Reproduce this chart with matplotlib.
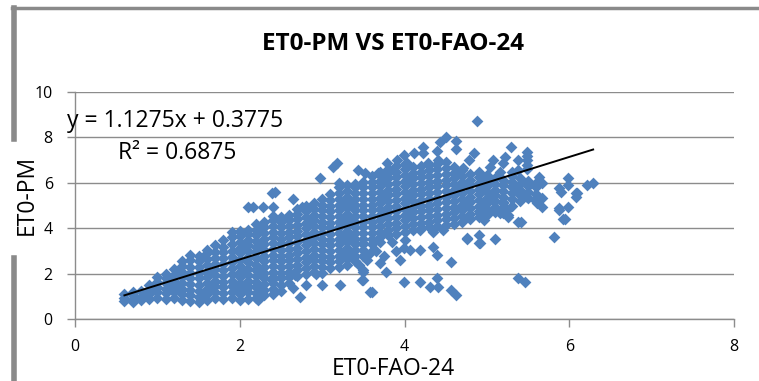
import numpy as np
import matplotlib
matplotlib.use('Agg')
import matplotlib.pyplot as plt
from matplotlib.lines import Line2D

plt.rcParams['font.family'] = ['Open Sans', 'DejaVu Sans']

# dense part of the cloud, read column by column (ET0-FAO-24 -> ET0-PM values)
core_x = [0.6, 0.7, 0.8, 0.9, 1.0, 1.1, 1.2, 1.3, 1.4, 1.5, 1.6, 1.7, 1.8, 1.9,
          2.0, 2.1, 2.2, 2.3, 2.4, 2.5, 2.6, 2.7, 2.8, 2.9, 3.0, 3.1, 3.2, 3.3,
          3.4, 3.5, 3.6, 3.7, 3.8, 3.9, 4.0, 4.1, 4.2, 4.3, 4.4, 4.5, 4.6, 4.7,
          4.8, 4.9, 5.0, 5.1, 5.2, 5.3, 5.4, 5.5, 5.6]
core_y = [
    [0.8, 0.95, 1.1],
    [0.75, 0.9, 1.05, 1.2],
    [0.85, 1.0, 1.25],
    [0.9, 1.1, 1.3, 1.5],
    [0.95, 1.2, 1.4, 1.65, 1.85],
    [0.9, 1.15, 1.35, 1.6, 1.8, 2.0],
    [0.95, 1.2, 1.45, 1.7, 1.95, 2.2],
    [0.85, 1.1, 1.35, 1.6, 1.85, 2.1, 2.35, 2.55],
    [0.8, 1.05, 1.3, 1.55, 1.8, 2.05, 2.3, 2.6, 2.85],
    [0.75, 1.0, 1.25, 1.5, 1.8, 2.05, 2.3, 2.55, 2.8],
    [0.85, 1.1, 1.35, 1.6, 1.85, 2.1, 2.4, 2.65, 2.9, 3.05],
    [0.95, 1.2, 1.45, 1.7, 1.95, 2.2, 2.45, 2.7, 2.95, 3.25],
    [0.9, 1.15, 1.4, 1.65, 1.9, 2.15, 2.45, 2.7, 2.95, 3.2, 3.5],
    [0.95, 1.2, 1.45, 1.7, 2.0, 2.25, 2.5, 2.75, 3.0, 3.3, 3.6, 3.85],
    [0.85, 1.1, 1.35, 1.6, 1.85, 2.1, 2.35, 2.6, 2.9, 3.15, 3.4, 3.65, 3.9],
    [0.9, 1.2, 1.45, 1.7, 1.95, 2.2, 2.5, 2.75, 3.0, 3.25, 3.5, 3.75, 3.95],
    [0.95, 1.15, 1.4, 1.65, 1.9, 2.15, 2.4, 2.7, 2.95, 3.2, 3.45, 3.7, 3.95, 4.2],
    [1.05, 1.3, 1.55, 1.8, 2.05, 2.3, 2.55, 2.8, 3.05, 3.3, 3.55, 3.8, 4.05, 4.3],
    [1.1, 1.35, 1.6, 1.85, 2.1, 2.35, 2.6, 2.85, 3.1, 3.35, 3.6, 3.85, 4.1, 4.35, 4.55],
    [1.25, 1.5, 1.8, 2.05, 2.3, 2.55, 2.8, 3.05, 3.3, 3.55, 3.8, 4.05, 4.3, 4.5],
    [1.6, 1.85, 2.1, 2.35, 2.6, 2.85, 3.1, 3.35, 3.6, 3.85, 4.1, 4.35, 4.6],
    [1.9, 2.15, 2.4, 2.65, 2.9, 3.15, 3.4, 3.65, 3.9, 4.15, 4.4, 4.65, 4.85],
    [2.0, 2.25, 2.5, 2.75, 3.0, 3.25, 3.5, 3.75, 4.0, 4.25, 4.5, 4.75, 5.0],
    [2.1, 2.35, 2.6, 2.85, 3.1, 3.35, 3.6, 3.85, 4.1, 4.35, 4.6, 4.85, 5.1],
    [2.05, 2.3, 2.55, 2.8, 3.05, 3.3, 3.55, 3.8, 4.05, 4.3, 4.55, 4.8, 5.05, 5.3],
    [2.25, 2.5, 2.75, 3.0, 3.25, 3.5, 3.75, 4.0, 4.25, 4.5, 4.75, 5.0, 5.25, 5.5],
    [2.3, 2.55, 2.8, 3.05, 3.3, 3.55, 3.8, 4.05, 4.3, 4.55, 4.8, 5.05, 5.3, 5.55, 5.8, 6.0],
    [2.4, 2.65, 2.9, 3.15, 3.4, 3.65, 3.9, 4.15, 4.4, 4.65, 4.9, 5.15, 5.4, 5.65, 5.9],
    [2.55, 2.8, 3.05, 3.3, 3.55, 3.8, 4.05, 4.3, 4.55, 4.8, 5.05, 5.3, 5.55, 5.8, 5.95],
    [2.8, 3.05, 3.3, 3.55, 3.8, 4.05, 4.3, 4.55, 4.8, 5.05, 5.3, 5.55, 5.8, 6.05],
    [3.3, 3.55, 3.8, 4.05, 4.3, 4.55, 4.8, 5.05, 5.3, 5.55, 5.8, 6.05, 6.3],
    [3.6, 3.85, 4.1, 4.35, 4.6, 4.85, 5.1, 5.35, 5.6, 5.85, 6.1, 6.35, 6.5],
    [3.7, 3.95, 4.2, 4.45, 4.7, 4.95, 5.2, 5.45, 5.7, 5.95, 6.2, 6.45, 6.6],
    [3.75, 4.0, 4.25, 4.5, 4.75, 5.0, 5.25, 5.5, 5.75, 6.0, 6.25, 6.5, 6.75],
    [3.85, 4.1, 4.35, 4.6, 4.85, 5.1, 5.35, 5.6, 5.85, 6.1, 6.35, 6.6, 6.85],
    [3.95, 4.2, 4.45, 4.7, 4.95, 5.2, 5.45, 5.7, 5.95, 6.2, 6.45, 6.7],
    [4.0, 4.25, 4.5, 4.75, 5.0, 5.25, 5.5, 5.75, 6.0, 6.25, 6.5, 6.75],
    [4.05, 4.3, 4.55, 4.8, 5.05, 5.3, 5.55, 5.8, 6.05, 6.3, 6.55, 6.8],
    [4.1, 4.35, 4.6, 4.85, 5.1, 5.35, 5.6, 5.85, 6.1, 6.35, 6.6, 6.85],
    [4.15, 4.4, 4.65, 4.9, 5.15, 5.4, 5.65, 5.9, 6.15, 6.4, 6.65, 6.9],
    [4.2, 4.45, 4.7, 4.95, 5.2, 5.45, 5.7, 5.95, 6.2, 6.45, 6.7],
    [4.3, 4.55, 4.8, 5.05, 5.3, 5.55, 5.8, 6.05, 6.3, 6.55],
    [4.4, 4.65, 4.9, 5.15, 5.4, 5.65, 5.9, 6.15, 6.4],
    [4.5, 4.75, 5.0, 5.25, 5.5, 5.75, 6.0, 6.25, 6.5],
    [4.6, 4.85, 5.1, 5.35, 5.6, 5.85, 6.1, 6.35],
    [4.7, 4.95, 5.2, 5.45, 5.7, 5.95, 6.2],
    [4.9, 5.15, 5.4, 5.65, 5.9, 6.15],
    [5.0, 5.3, 5.55, 5.8, 6.05, 6.3],
    [5.2, 5.45, 5.7, 5.95, 6.2],
    [5.35, 5.6, 5.85, 6.1],
    [5.5, 5.8, 6.0],
]

# scattered points around the cloud
extra_x = [2.22, 2.1, 2.39, 2.65, 2.73, 2.8, 3.0, 3.22, 3.49, 3.58, 3.5, 2.67, 2.92,
           3.5, 3.58, 3.7, 3.77, 3.5, 3.5, 3.6, 3.99, 4.07, 4.19, 4.34, 4.4, 4.56,
           3.99, 4.19, 4.31, 4.4, 4.41, 4.56, 4.62, 4.01, 4.19, 4.34, 4.47, 4.76,
           4.9, 4.9, 5.1, 5.81, 5.38, 5.46, 4.76, 4.92, 3.45, 3.55, 3.65, 3.75,
           3.85, 3.9, 3.95, 3.7,
           4.88, 4.5, 4.43, 4.62, 4.62, 4.4, 4.22, 4.23, 4.11, 3.99, 3.91, 3.79,
           3.52, 3.68, 4.03, 4.41, 4.29, 4.78, 4.84, 4.71, 3.18, 3.13, 2.98, 3.43,
           2.43, 2.39, 2.16, 2.28, 2.4, 2.65, 2.76, 2.1,
           5.29, 5.49, 5.49, 5.49, 5.49, 5.49, 5.38, 5.22, 5.07, 5.04, 5.19, 5.38,
           5.31, 5.16, 4.98, 5.63, 5.67, 5.87, 5.99, 5.99, 6.08, 6.22, 6.29, 4.98,
           5.07, 5.19, 5.22, 5.59, 5.67, 5.87, 5.99, 5.41, 5.95, 6.1, 6.08, 5.16,
           5.25, 5.26, 4.92, 4.96, 5.49, 5.61, 5.67, 5.9, 5.19, 5.26, 5.38, 5.87,
           5.93]
extra_y = [0.85, 1.4, 1.73, 1.38, 0.98, 1.5, 1.5, 1.5, 1.73, 1.2, 2.1, 1.95, 2.0,
           3.35, 2.9, 2.47, 2.08, 2.17, 1.73, 1.2, 3.14, 3.05, 3.05, 3.19, 2.83, 2.52,
           1.64, 1.64, 1.42, 1.82, 1.42, 1.29, 1.07, 3.49, 3.93, 3.84, 3.93, 3.58,
           3.71, 3.35, 3.54, 3.62, 1.82, 1.64, 3.53, 3.35, 2.4, 2.6, 3.0, 2.8,
           3.4, 3.0, 2.6, 3.4,
           8.73, 8.03, 7.8, 7.86, 7.5, 7.4, 7.6, 7.3, 7.3, 7.24, 7.0, 6.87,
           6.45, 6.45, 6.87, 7.0, 6.87, 7.0, 7.3, 6.67, 6.87, 6.7, 6.22, 6.57,
           5.6, 5.55, 4.95, 4.95, 4.95, 5.3, 4.95, 4.95,
           7.6, 7.37, 7.2, 7.0, 6.8, 6.6, 7.0, 7.15, 7.0, 6.7, 6.87, 6.57,
           6.48, 6.48, 6.2, 6.27, 6.0, 5.77, 6.2, 5.9, 5.55, 5.9, 6.0, 5.7,
           5.26, 5.1, 4.9, 5.26, 4.95, 4.9, 4.95, 4.29, 4.42, 5.55, 5.4, 4.68,
           4.8, 4.5, 4.68, 4.37, 5.4, 5.13, 5.35, 5.6, 4.68, 4.6, 4.29, 4.8,
           4.42]

# trendline shown on the chart
slope, intercept = 1.1275, 0.3775
xticks = [0, 2, 4, 6, 8]
yticks = [0, 2, 4, 6, 8, 10]

fao = [x for x, ys in zip(core_x, core_y) for _ in ys] + extra_x
pm = [y for ys in core_y for y in ys] + extra_y

W, H = 759, 381
fig = plt.figure(figsize=(W / 100, H / 100), dpi=100)
ax = fig.add_axes([75 / W, 1 - 319.3 / H, (734 - 75) / W, (319.3 - 92) / H])

grey = '#8c8c8c'
ax.scatter(fao, pm, marker='D', s=36, color='#4f81bd', linewidths=0, zorder=3)

xl = np.array([min(fao), max(fao)])
ax.plot(xl, slope * xl + intercept, color='black', lw=1.4, zorder=4)

ax.set_xlim(0, 8)
ax.set_ylim(0, 10)
ax.set_xticks(xticks)
ax.set_yticks(yticks)
ax.grid(axis='y', color=grey, lw=1.0, zorder=0)
ax.set_axisbelow(True)
for s in ['top', 'right']:
    ax.spines[s].set_visible(False)
for s in ['left', 'bottom']:
    ax.spines[s].set_color(grey)
    ax.spines[s].set_linewidth(1.0)
ax.tick_params(axis='both', colors=grey, length=6, width=1.0, pad=10,
               labelsize=11.5, labelcolor='black')
ax.tick_params(axis='x', pad=8)

fig.text(393 / W, 1 - 44 / H, 'ET0-PM VS ET0-FAO-24', ha='center', va='center',
         fontsize=17.5, fontweight='bold')
fig.text(67 / W, 1 - 121 / H, 'y = 1.1275x + 0.3775', ha='left', va='center', fontsize=16.5)
fig.text(118 / W, 1 - 153 / H, 'R² = 0.6875', ha='left', va='center', fontsize=16.5)
fig.text(393 / W, 1 - 369 / H, 'ET0-FAO-24', ha='center', va='center', fontsize=16.5)
fig.text(27 / W, 1 - 195 / H, 'ET0-PM', ha='center', va='center', rotation=90, fontsize=16.5)

# frame pieces of the cropped page
bar = '#8a8a8a'
fig.add_artist(Line2D([12 / W, 1], [1 - 8 / H, 1 - 8 / H], color=bar, lw=2.5))
fig.add_artist(Line2D([14.5 / W, 14.5 / W], [1 - 8 / H, 1 - 139 / H], color=bar, lw=4))
fig.add_artist(Line2D([14.5 / W, 14.5 / W], [1 - 258 / H, 0], color=bar, lw=4))

fig.savefig('out.png', dpi=100)
